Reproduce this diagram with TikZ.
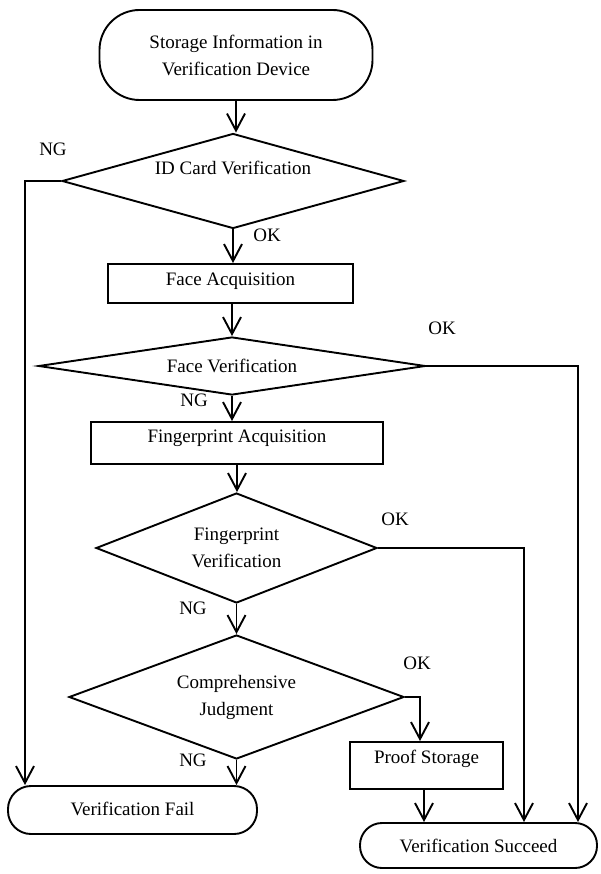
\documentclass[tikz,border=0pt]{standalone}
\usepackage{fontspec}
\setmainfont{Liberation Serif}
\usetikzlibrary{shapes.geometric,arrows.meta}
\begin{document}
\begin{tikzpicture}[x=1pt,y=-1pt,
  every node/.style={font=\fontsize{19}{27}\selectfont, line width=1.9pt},
  decision/.style={draw, diamond, inner sep=0pt, align=center, shape aspect=3},
  procbox/.style={draw, rectangle, inner sep=0pt, align=center},
  termbox/.style={draw, rectangle, inner sep=0pt, align=center},
  arr/.style={-{Straight Barb[length=17pt,width=18pt,line width=1.9pt]}, line width=1.9pt},
  lbl/.style={inner sep=0pt}
]
\useasboundingbox (0,0) rectangle (600,874);

\node[termbox, rounded corners=40pt, minimum width=273pt, minimum height=90pt] (start) at (236,55)
  {Storage Information in\\Verification Device};
\node[decision, minimum width=342pt, minimum height=95pt] (d1) at (233,181)
  {\raisebox{27pt}{ID Card Verification}};
\node[procbox, minimum width=245pt, minimum height=39pt] (r1) at (230.5,283.5)
  {\raisebox{9.5pt}{Face Acquisition}};
\node[decision, minimum width=387pt, minimum height=58pt] (d2) at (232,366)
  {Face Verification};
\node[procbox, minimum width=292pt, minimum height=42pt] (r2) at (237,443)
  {\raisebox{13pt}{Fingerprint Acquisition}};
\node[decision, minimum width=281pt, minimum height=110pt] (d3) at (236.5,548)
  {Fingerprint\\Verification};
\node[decision, minimum width=335pt, minimum height=124pt] (d4) at (236.5,697)
  {Comprehensive\\Judgment};
\node[procbox, minimum width=153pt, minimum height=47pt] (r3) at (426.5,765.5)
  {\raisebox{17pt}{Proof Storage}};
\node[termbox, rounded corners=23pt, minimum width=249pt, minimum height=48pt] (fail) at (132.5,810)
  {\raisebox{3pt}{Verification Fail}};
\node[termbox, rounded corners=22pt, minimum width=237pt, minimum height=45pt] (succ) at (478.5,845.5)
  {Verification Succeed};

\coordinate (ngx) at (25,0);
\coordinate (ok2x) at (578,0);
\coordinate (ok3x) at (524,0);
\coordinate (ok4x) at (420,0);

\draw[arr] (start.south) -- (start.south |- d1.north);
\draw[arr] (d1.west) -| (ngx |- fail.north);
\draw[arr] (d1.south) -- (d1.south |- r1.north);
\draw[arr] (r1.south -| d2.north) -- (d2.north);
\draw[arr] (d2.east) -| (ok2x |- succ.north);
\draw[arr] (d2.south) -- (d2.south |- r2.north);
\draw[arr] (r2.south) -- (r2.south |- d3.north);
\draw[arr] (d3.east) -| (ok3x |- succ.north);
\draw[arr] (d3.south) -- (d3.south |- d4.north);
\draw[arr] (d4.east) -| (ok4x |- r3.north);
\draw[arr] (d4.south) -- (d4.south |- fail.north);
\draw[arr] (r3.south -| 424,0) -- (424,0 |- succ.north);

\node[lbl] (ng1) at (53,149) {NG};
\node[lbl] (ok1) at (267,235.5) {OK};
\node[lbl] (ok2) at (442,328) {OK};
\node[lbl] (ng2) at (194,400) {NG};
\node[lbl] (ok3) at (395,519) {OK};
\node[lbl] (ng3) at (193,608) {NG};
\node[lbl] (ok4) at (417,663) {OK};
\node[lbl] (ng4) at (193,760) {NG};
\end{tikzpicture}
\end{document}
